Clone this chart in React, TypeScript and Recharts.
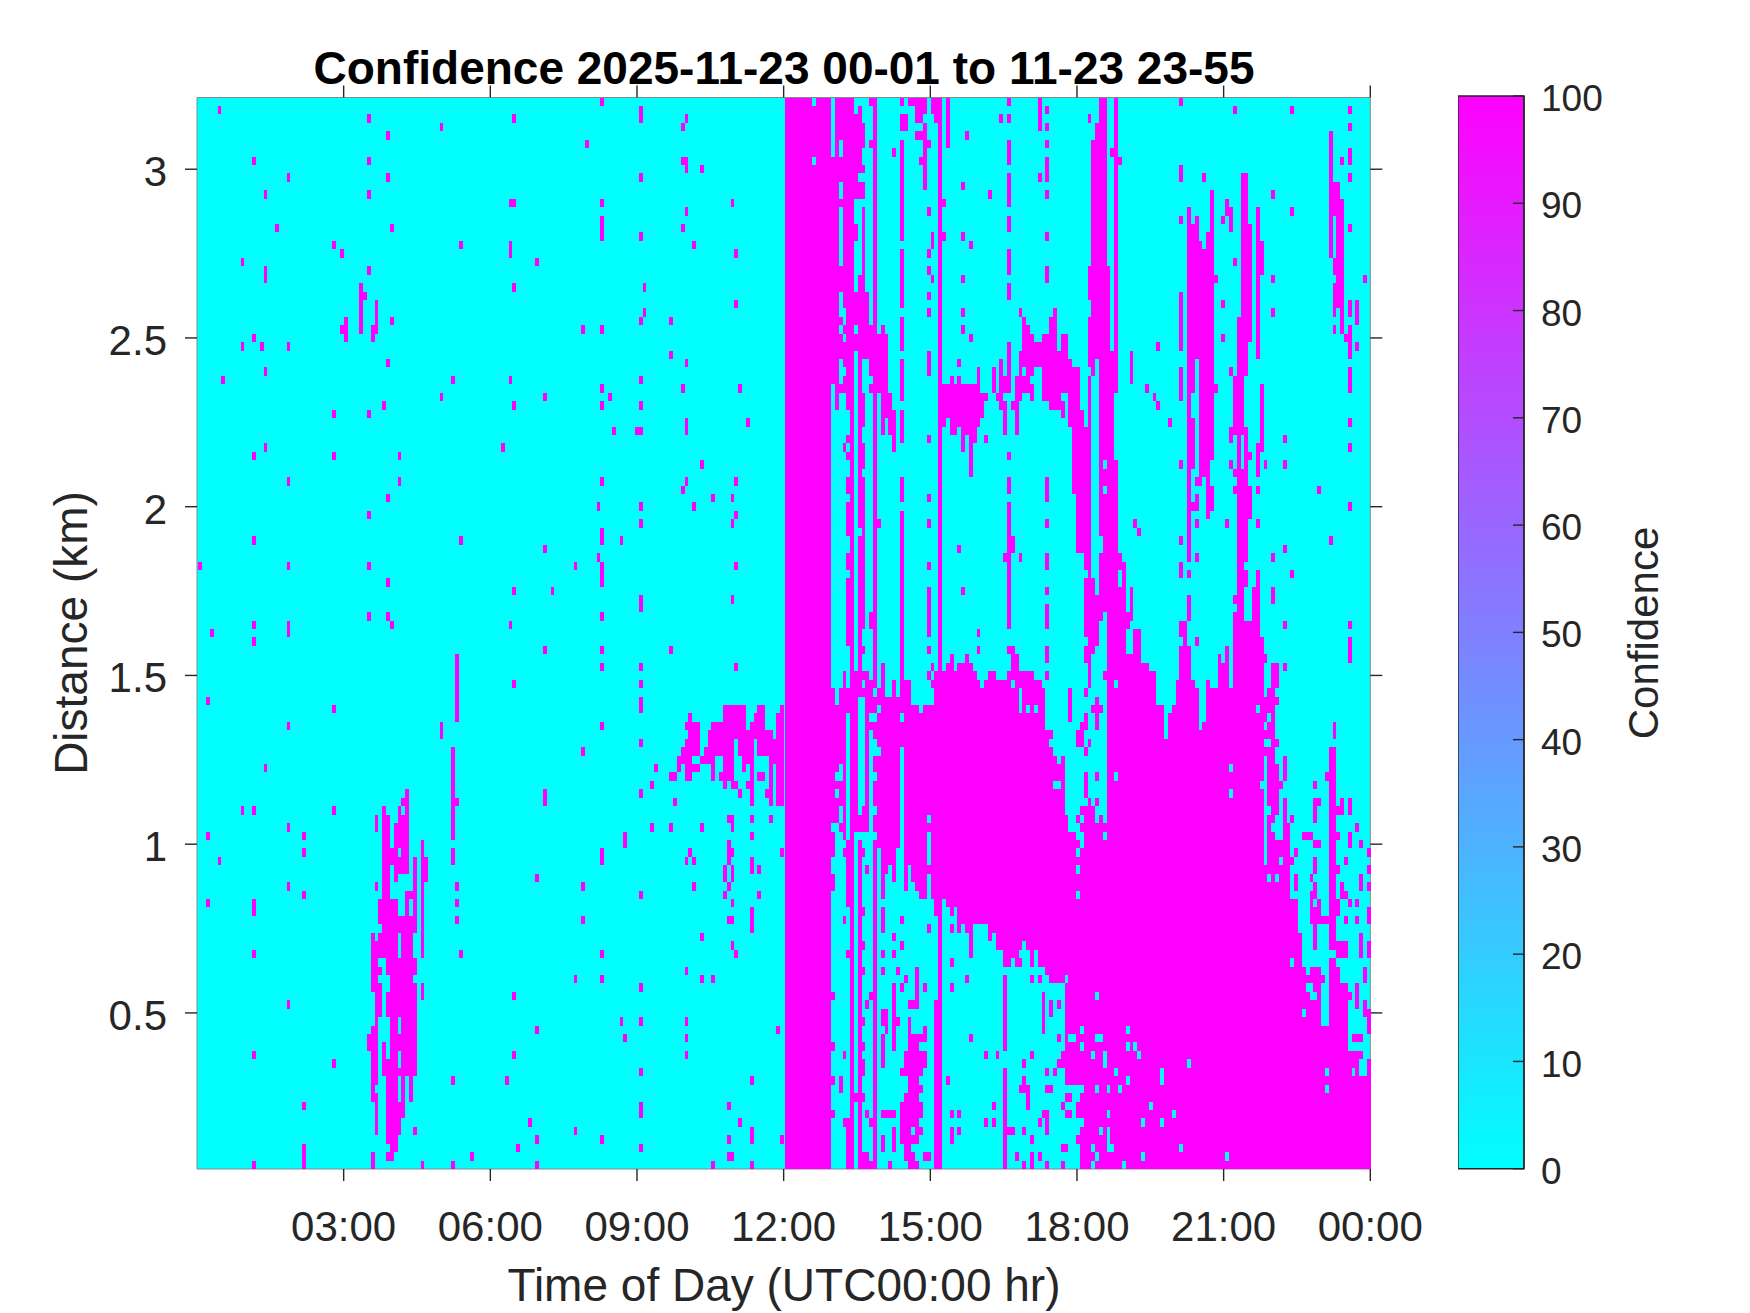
import { ScatterChart, Scatter, XAxis, YAxis, CartesianGrid, BarChart, Bar, ReferenceLine } from "recharts";

// range gate / time bin layout of the lidar grid (row 0 = top gate, 3.2 km)
const ROWS = 127;
const COLS = 306;
const NOON_COL = 153;
const HOUR_START = 0.05;
const HOUR_STEP = 0.0783;
const KM_MIN = 0.0375;
const KM_MAX = 3.2125;

const hourTicks = [3, 6, 9, 12, 15, 18, 21, 24];
const hourLabels = ["03:00", "06:00", "09:00", "12:00", "15:00", "18:00", "21:00", "00:00"];
const distanceTicks = [0.5, 1, 1.5, 2, 2.5, 3];
const confidenceTicks = [0, 10, 20, 30, 40, 50, 60, 70, 80, 90, 100];

type Speck = number[]; // [col, row, rowTo?]
type Patch = number[]; // [colFrom, colTo, rowFrom, rowTo]

// isolated hits before noon (col counted from midnight)
const nightSpecks: Speck[] = [
  [5,1],[44,2],[63,3],[49,4],[82,2],[105,0],[115,1,2],[127,2],[126,3],[101,5],[14,7],[44,7],[126,7],[127,7],[127,8],[131,8],
  [23,9],[49,9],[115,9],[17,11],[44,11],[81,12],[82,12],[105,12],[139,12],[127,13],[20,15],[50,15],[105,14,16],[126,15],[115,16],
  [35,17],[37,18],[68,17],[81,17,18],[129,17],[140,18],[11,19],[88,19],[17,20,21],[44,20],[42,22,27],[43,23],[46,24,27],[38,26,28],
  [37,27],[45,27],[45,28],[50,26],[82,22],[116,22],[140,24],[116,25],[115,26],[123,26],[100,27],[105,27],[14,28],[11,29],[16,29],
  [23,29],[123,30],[49,31],[127,31],[17,32],[6,33],[66,33],[81,33],[115,33],[105,34],[126,34],[141,34],[63,35],[90,35],[107,35],
  [48,36],[82,36],[105,36],[115,36],[35,37],[44,37],[127,38,39],[143,38],[108,39],[114,39],[115,39],[17,41],[79,41],[14,42],[35,42],
  [52,42],[131,43],[23,45],[52,45],[105,45],[127,45],[140,45],[126,46],[49,47],[134,47],[139,47],[104,48],[115,48],[129,48],[44,49],
  [140,49],[115,50],[139,50],[14,52],[68,52],[105,51,52],[110,52],[90,53],[104,54],[0,55],[23,55],[44,55],[98,55],[105,55,57],[140,55],
  [49,57],[82,58],[92,58],[115,59,60],[139,59],[44,61],[49,61],[50,62],[105,61],[14,62],[23,62,63],[81,62],[3,63],[14,64],[90,65],
  [105,65],[123,65],[105,67],[115,67],[140,67],[82,69],[115,69],[2,71],[35,72],[115,71,72],[67,66,73],[23,74],[105,74],[63,74,75],
  [115,76],[100,77],[66,77,82],[66,83],[67,83],[66,84,87],[17,79],[119,79],[118,81],[115,82],[90,82,83],[124,83],[11,84],[14,84],
  [35,84],[23,86],[27,87],[2,87],[111,87,88],[27,89],[5,90],[105,89,90],[66,89,90],[88,92],[100,93],[23,93],[27,94],[67,93],[67,95],
  [2,95],[14,95,96],[115,94],[67,97],[100,97],[14,101],[68,101],[105,101],[98,104],[105,104],[115,105],[82,106],[23,107],[88,110],
  [110,109],[115,109],[127,109],[111,111],[127,111],[14,113],[82,113],[127,113],[35,114],[115,115],[66,116],[80,116],[144,116],
  [27,119],[115,119,120],[138,119],[86,121],[141,121],[98,122],[88,123],[105,123],[138,123],[144,122,123],[83,124],[115,124],[71,125],
  [138,125],[139,125],[27,124,126],[14,126],[45,125,126],[58,126],[66,126],[88,126],[134,126],[144,126],[127,103],[131,104],[134,104],
  [131,99],[139,100],[140,101],[138,97],[139,97],[144,96,98],[139,95],[137,94],[146,94],[138,93],[129,93],[137,91,92],[139,91,92],
  [138,88,90],[139,89],[127,90],[129,90],[128,89],[144,90,91],[146,91],[144,87],[118,86],[123,86],[131,86],[138,85],[139,85],[139,86],
  [144,85],[149,85],[152,89],[151,110],[152,123],
];

// the cloud patch around 04:00
const plumePatches: Patch[] = [
  [54,54,82,82],[53,54,83,83],[48,48,84,84],[52,52,84,84],[54,54,84,84],[46,46,85,86],[48,49,85,88],[52,54,85,85],[51,54,86,88],
  [58,58,88,101],[48,51,89,89],[53,54,89,89],[48,54,90,90],[56,56,90,93],[59,59,90,92],[48,49,91,94],[51,54,91,91],[51,51,92,92],
  [46,46,93,93],[54,56,94,94],[47,51,95,96],[54,54,95,96],[56,56,95,96],[47,56,97,97],[48,56,98,98],[45,45,99,99],[47,51,99,99],
  [53,55,99,101],[45,51,100,101],[45,46,102,102],[49,56,102,103],[45,47,103,103],[45,46,104,104],[50,55,104,104],[45,47,105,105],
  [50,56,105,105],[58,58,105,106],[46,47,106,108],[49,56,106,108],[46,46,109,109],[50,51,109,110],[53,56,109,110],[45,46,110,110],
  [44,46,111,112],[50,56,111,112],[48,48,112,113],[45,46,113,114],[50,51,113,113],[53,56,113,114],[48,51,114,114],[45,46,115,116],
  [48,56,115,115],[49,51,116,118],[53,53,116,118],[55,55,116,118],[45,45,117,117],[45,46,118,118],[46,46,119,122],[49,53,119,120],
  [49,52,121,122],[56,56,122,122],[49,51,123,123],[50,51,124,124],[49,50,125,125],
];

// the layer running into the curtain from 10:00 to noon
const morningBandPatches: Patch[] = [
  [137,137,72,73],[138,142,72,73],[146,147,72,72],[152,152,72,83],[128,128,73,73],[145,147,73,73],[151,151,73,75],[127,130,74,74],
  [134,142,74,74],[144,147,74,74],[128,130,75,75],[133,143,75,75],[144,149,75,75],[127,130,76,76],[133,139,76,76],[141,144,76,76],
  [146,152,76,77],[126,127,77,77],[128,130,77,77],[132,139,77,77],[141,144,77,77],[125,127,78,78],[128,128,78,78],[131,133,78,78],
  [134,134,78,80],[137,139,78,79],[142,142,78,79],[143,144,78,78],[149,152,78,78],[125,125,79,79],[127,128,79,79],[129,130,79,79],
  [144,144,79,83],[149,149,79,83],[151,151,79,83],[123,124,80,80],[127,128,80,80],[136,139,80,80],[146,147,80,80],[137,137,81,81],
  [139,140,81,81],[143,143,81,81],[141,141,82,82],[148,148,82,82],
];

// afternoon data below is counted in columns from noon
const curtainPatches: Patch[] = [
  [0,11,0,126],[13,17,0,6],[12,17,7,34],[18,19,2,2],[19,19,1,1],[18,20,3,5],[18,19,6,7],[18,20,8,8],[18,18,9,9],[18,20,10,11],
  [22,23,0,0],[22,23,5,5],[23,23,0,27],[20,20,13,22],[18,18,15,16],[19,20,21,22],[18,21,23,26],[19,23,27,27],[25,25,27,27],[16,26,28,34],
];

const upperLinePatches: Patch[] = [
  [30,30,0,0],[30,31,2,3],[30,30,5,16],[30,30,18,24],[30,30,26,29],[30,30,31,34],[32,36,0,0],[34,36,1,1],[34,35,2,2],[36,36,3,3],
  [34,36,4,4],[36,37,5,5],[36,36,6,6],[35,36,7,7],[36,36,8,10],[37,37,30,32],[38,38,16,17],[38,40,0,1],[39,40,2,2],[40,40,0,126],
  [42,42,0,5],[58,58,5,7],[58,58,9,11],[58,58,14,15],[58,58,18,20],[58,58,22,23],[58,58,29,32],[66,66,0,3],[68,68,7,9],[68,68,20,21],
  [40,49,34,34],[50,50,32,34],[54,54,32,34],[56,56,31,34],[57,58,33,34],[60,60,33,34],
  [79,79,2,2],[82,83,0,2],[81,83,3,4],[80,83,5,19],[79,84,20,23],[80,84,24,25],[79,84,26,29],[79,86,30,31],[80,80,32,32],[82,86,32,32],
  [79,79,33,34],[82,85,33,34],[86,86,0,34],[85,86,6,6],[87,87,7,7],[90,90,30,33],[103,103,8,9],[103,103,23,29],[103,103,32,34],
  [105,105,13,34],[107,107,14,15],[105,106,15,15],[105,107,16,16],[110,111,16,17],[105,108,17,17],[105,111,18,30],[111,111,11,15],
  [112,112,21,21],[105,106,31,34],[108,111,31,34],[112,112,34,34],[115,115,12,13],[116,116,13,15],[119,120,9,14],[119,121,15,25],
  [118,121,26,28],[118,120,29,32],[117,119,33,34],[123,123,13,30],[124,124,17,20],[142,142,4,18],[143,144,10,13],[145,145,12,19],
  [144,144,14,17],[144,144,18,18],[143,145,19,20],[144,145,21,21],[143,145,22,24],[143,143,25,25],[145,145,25,27],[143,143,27,27],
  [146,147,28,28],[147,147,29,30],[147,147,27,27],[147,147,6,7],[147,147,24,25],[147,147,32,34],[149,149,24,26],
];

const upperSpecks: Speck[] = [
  [28,6],[37,13],[37,18],[37,20],[37,23],[37,25],[38,21],[41,12],[41,16],[47,4],[46,10],[46,16],[46,21],[46,25],[46,27],[48,17],[48,28],
  [53,11],[56,2],[58,0],[58,2],[58,12],[66,9],[68,1],[68,3],[68,5],[68,11],[68,16],[45,31],[43,33],[45,33],[94,34],[97,29],[103,0],
  [103,14],[109,9],[114,14],[114,24],[114,28],[116,32],[117,19],[117,1],[124,34],[127,11],[127,21],[127,25],[132,1],[132,13],[147,1],
  [147,3],[147,9],[147,15],[145,7],[149,29],[151,21],[76,32,34],
];

const bumpPatches: Patch[] = [
  [61,61,25,25],[70,70,25,25],[62,62,26,26],[69,70,26,27],[62,63,27,27],[62,64,28,28],[67,70,28,28],[72,73,28,29],[62,70,29,29],
  [61,73,30,30],[61,74,31,31],[61,76,32,34],
];

const midPatches: Patch[] = [
  [13,13,35,36],[17,17,35,67],[19,20,35,38],[19,19,39,40],[19,20,41,43],[19,19,44,44],[19,20,45,50],[20,20,51,51],[19,20,52,62],
  [19,19,63,64],[19,20,65,65],[19,19,66,70],[16,16,35,36],[16,16,40,40],[15,15,41,41],[16,16,42,42],[16,16,45,46],[16,16,48,51],
  [16,16,54,55],[16,16,57,62],[16,16,63,64],[23,23,35,69],[24,24,50,50],[22,22,61,62],[25,27,35,36],[25,28,37,37],[25,25,38,39],
  [27,28,38,39],[28,28,40,41],[30,30,35,35],[30,30,37,40],[30,30,45,47],[30,30,49,53],[30,30,54,60],[30,30,61,70],[40,49,35,37],
  [40,41,38,38],[43,49,38,38],[43,44,39,39],[46,49,39,39],[46,46,40,41],[48,49,40,40],[48,48,41,44],[50,50,35,38],[51,51,35,37],
  [52,52,35,35],[55,56,35,35],[56,57,36,36],[57,57,37,39],[59,59,36,36],[60,60,35,39],[61,61,35,35],[67,71,35,35],[69,72,36,36],
  [72,72,37,37],[74,76,35,38],[75,76,39,46],[76,76,47,53],[58,58,45,46],[58,58,48,51],[58,59,52,53],[57,58,54,54],[58,58,55,58],
  [58,58,59,62],[58,59,65,65],[59,60,66,68],[68,68,45,47],[68,68,54,55],[68,68,60,62],[68,68,65,66],[42,43,67,67],[45,48,67,67],
  [39,48,68,68],[49,49,68,68],[53,54,68,68],[60,62,68,69],[63,64,68,69],[38,49,69,69],[50,50,69,69],[52,58,69,69],[65,66,69,69],
  [15,15,68,69],[17,21,68,68],[17,19,69,69],[21,22,69,69],[25,25,67,69],[28,28,69,69],[30,32,69,69],
  [76,76,35,38],[77,77,37,38],[79,79,35,38],[76,78,39,39],[79,79,39,39],[76,79,40,48],[77,79,49,53],[78,79,54,55],[79,79,56,56],
  [78,80,57,58],[78,83,59,60],[78,82,61,61],[78,81,62,63],[79,81,64,64],[78,80,65,65],[78,79,66,66],[79,79,67,69],[82,85,35,42],
  [82,86,43,51],[83,86,52,53],[82,87,54,54],[82,88,55,60],[90,90,58,60],[84,90,61,61],[84,89,62,62],[84,88,63,65],[91,92,63,65],
  [84,92,66,66],[84,94,67,67],[83,96,68,68],[84,96,69,69],[103,104,62,63],[104,104,64,64],[103,105,65,68],[102,106,69,69],
  [105,105,35,54],[105,105,59,61],[106,106,38,43],[108,111,35,42],[108,110,43,44],[107,108,45,45],[110,110,45,45],[110,111,46,48],
  [110,110,49,49],[106,107,48,48],[113,113,66,69],[114,115,67,69],[115,115,65,66],[110,110,69,69],[116,116,39,40],[117,119,35,38],
  [116,120,39,39],[118,118,40,43],[120,120,40,43],[120,121,42,42],[117,120,44,44],[118,120,45,45],[117,121,46,46],[118,121,47,49],
  [118,120,50,54],[118,119,55,55],[118,120,56,57],[118,119,58,58],[117,119,59,59],[118,119,60,60],[117,119,61,61],[122,123,58,61],
  [117,123,62,63],[117,124,64,69],[124,124,35,41],[123,123,41,44],[123,123,56,57],[127,128,67,69],[127,127,58,59],
];

const midSpecks: Speck[] = [
  [37,40],[37,47],[37,50],[37,55],[37,58],[37,59,63],[37,65],[37,68],[38,67],[64,35],[52,40],[58,42],[61,54],[68,50],[68,58],[68,68],
  [45,53],[46,58],[50,63],[50,65],[43,66],[47,66],[58,68],[91,50],[92,51],[96,35],[97,36],[100,38],[103,35],[103,43],[103,52],[103,55,56],
  [107,47],[107,50],[107,54],[105,56],[107,64],[115,50],[116,43],[123,46],[123,50],[125,43],[125,66],[127,54],[130,40],[130,43],[130,53],
  [130,62],[130,67],[132,56],[139,46],[142,52],[147,38],[147,41],[147,48],[147,62],[147,64,66],
];

const lowerSolidPatches: Patch[] = [
  [12,83,70,126],[84,124,70,126],[125,152,102,126],
];

// cyan gaps in the curtain and the upper layers
const curtainGapPatches: Patch[] = [
  [7,7,0,0],[7,7,7,7],[14,14,5,6],[14,14,10,11],[14,14,13,19],[14,14,23,25],[14,14,27,27],[14,14,31,33],[15,15,25,26],[15,15,28,28],
  [15,15,32,32],[18,18,27,27],[18,18,30,34],[20,21,31,34],[22,22,33,33],[12,12,34,34],[62,62,32,32],[64,64,33,33],[65,66,32,34],
  [81,81,31,31],[83,83,43,43],[83,83,46,46],[87,87,56,57],[86,86,69,69],[143,143,14,15],
];

// cyan gaps cut back out of the solid layer
const lowerGapPatches: Patch[] = [
  [13,13,70,71],[23,23,70,70],[26,27,70,70],[29,29,70,70],[33,38,70,71],[35,35,72,72],[24,24,72,72],[22,23,73,73],[30,30,73,73],
  [22,22,75,86],[23,23,76,76],[23,24,77,77],[23,23,80,80],[23,23,84,84],[19,20,71,83],[19,19,84,84],[16,16,73,87],[14,14,79,79],
  [13,14,80,80],[13,13,82,82],[14,14,84,85],[12,13,86,86],[13,14,87,87],[13,15,88,88],[13,14,89,89],[12,15,90,91],[13,15,92,93],
  [12,15,94,126],[16,16,95,126],[18,23,87,87],[18,18,88,126],[20,22,88,126],[30,30,77,88],[37,37,85,85],[37,37,87,90],[37,37,92,94],
  [24,24,89,126],[25,25,95,126],[26,26,92,126],[27,27,91,126],[28,28,93,126],[29,30,89,126],[31,31,94,126],[32,32,91,126],[33,33,93,126],
  [34,34,94,126],[35,38,95,126],[39,39,97,126],[41,41,95,126],[42,42,96,126],[43,43,97,126],[44,44,96,126],[45,45,99,126],[46,46,98,126],
  [47,47,99,126],[48,48,102,126],[49,52,98,126],[53,53,100,126],[54,54,99,126],[55,56,101,126],[57,58,103,126],[59,59,102,126],[60,60,103,126],
  [61,61,101,126],[62,62,100,126],[63,63,101,126],[64,64,103,126],[65,65,101,126],[66,67,103,126],[68,69,104,126],[70,72,105,126],
  [73,73,104,104],[73,75,111,111],[73,76,117,118],[73,75,119,120],[73,77,121,121],[73,76,122,122],[73,75,123,123],[73,76,124,126],
  [61,61,70,72],[63,63,72,72],[65,65,72,72],[68,83,70,74],[70,83,75,75],[69,83,76,76],[70,83,77,77],[71,71,78,78],[73,83,78,78],
  [73,83,79,84],[74,83,85,86],[70,71,81,81],[76,83,87,94],
  [97,101,70,71],[99,100,72,72],[99,99,73,75],[108,109,70,73],[108,108,74,74],[116,116,79,79],[116,116,82,82],[86,86,80,80],[123,123,72,72],[124,124,81,81],
  [132,132,102,102],[135,137,102,102],[136,136,103,103],[140,141,102,103],[145,146,103,104],[141,141,104,108],[136,137,105,105],
  [137,138,106,106],[135,135,108,108],[140,141,105,109],[147,152,103,112],[151,152,113,113],[150,151,114,115],
];

// hits left standing inside those gaps
const lowerBitSpecks: Speck[] = [
  [74,70,73],[78,70],[81,71],[80,72],[81,72],[82,72],[81,73,74],[78,73],[77,74],[78,74],[76,75],[77,75],[76,76],[77,76],[79,76],[78,77],
  [78,80,82],[81,80],[79,83],[81,83],[76,85],[78,85],[79,85],[80,85],[82,85],[76,88],[76,90],[76,92,93],
  [15,97],[16,95],[16,101],[20,89],[21,91],[20,96],[20,100],[20,103],[25,96,98],[28,99],[30,97],[30,100],[28,101],[25,101],[25,103],
  [29,103],[31,104],[34,103,106],[28,105],[30,105],[36,105],[37,98],[43,98],[43,102],[47,104],[57,104,112],[57,115,126],[43,105],[47,104],
  [48,111],[52,113],[55,113],[42,116],[43,120],[45,120],[52,121],[54,121],[43,122,123],[45,122],[54,119],[58,122],[59,122],[62,122],
  [64,123],[60,102],[61,102],[64,102],[64,104],[66,104],[69,104],[67,106,110],[69,107,108],[71,107],[71,111],[73,111],[72,113],[71,114],
  [72,114],[68,115],[70,115],[69,117],[73,118],[74,118],[72,119],[67,120],[66,121],[68,120,122],[73,120],[74,120],[72,124],[73,124],
  [60,125],[62,126],[64,125,126],[66,125],[68,126],[72,126],[64,113],[62,114],[62,116],[61,117],[62,117],[63,117],[68,117],[63,118,119],
  [20,109],[20,112],[20,114,115],[21,120],[22,121],[23,121],[12,106],[12,112],[12,116],[12,120],[15,113],[14,116,117],[15,121],[16,121],
  [16,122,126],[17,118],[18,118],[19,118],[20,118],[20,125,126],[21,125,126],[21,126],[22,126],[25,108],[25,109],[26,108,110],[25,111,114],
  [28,105,110],[28,111,112],[28,109],[29,109],[22,106],[21,107],[20,109],[36,105],[30,105],[31,104],[32,107],[33,107],[34,107],[32,109,110],
  [36,110],[25,120],[26,120],[27,120],[28,120],[25,123,124],[28,122,124],[27,126],[39,107,126],[40,107,126],
];

const lowerPiecePatches: Patch[] = [
  [32,36,111,111],[32,34,112,112],[31,36,113,114],[30,35,115,115],[32,34,116,116],[32,35,117,117],[31,34,118,118],[30,35,119,120],
  [30,34,121,121],[30,32,122,122],[34,35,122,122],[30,34,123,123],[31,32,124,124],[31,33,125,125],[36,37,125,125],[32,34,126,126],
  [77,78,74,74],[77,80,84,84],[77,83,86,86],[78,82,87,87],[78,83,88,88],[77,83,89,89],[76,83,90,90],[77,83,91,91],[76,83,92,93],[77,83,94,94],
  [125,127,71,72],[128,128,71,71],[126,127,70,70],[125,125,73,73],[127,127,73,73],[126,127,74,74],[125,127,75,75],[127,128,76,76],[125,127,77,77],
  [126,127,78,78],[126,128,79,80],[126,129,81,81],[126,128,82,83],[127,128,84,84],[126,127,85,85],[126,126,86,86],[126,127,87,87],[126,131,88,89],
  [126,128,90,90],[125,131,91,91],[125,125,92,92],[127,127,92,92],[129,131,92,92],[125,131,93,94],[125,133,95,98],[125,134,99,101],
  [130,130,78,80],[130,130,83,85],[130,131,86,87],[132,132,85,85],[133,133,89,89],[130,132,90,90],[133,133,92,93],
  [135,137,87,87],[138,139,88,88],[138,138,81,81],[138,139,83,83],[138,138,84,85],[143,143,74,75],[142,143,77,99],[141,143,80,80],
  [144,145,84,84],[145,145,83,83],[147,147,83,84],[149,149,86,86],[147,147,87,88],[150,150,88,88],[152,152,89,89],[146,146,90,90],[144,144,87,87],
  [144,144,91,91],[138,138,90,91],[137,137,92,92],[138,138,93,93],[137,138,94,94],[137,137,95,95],[139,139,95,95],[137,139,96,97],[140,143,97,97],
  [138,138,98,100],[144,144,95,96],[145,145,93,94],[146,146,94,94],[147,147,95,95],[149,149,95,95],[150,150,92,93],[152,152,91,91],[152,152,93,93],
  [152,152,96,97],[146,146,97,97],[149,149,97,97],[142,145,100,100],[144,145,101,101],[146,146,100,101],[150,150,99,101],[152,152,100,101],[147,147,106,106],
  [149,149,105,107],[151,151,103,104],[151,151,107,108],[148,150,111,111],[146,146,108,109],[152,152,108,110],
];

const lowerHoleSpecks: Speck[] = [
  [81,106],[77,110],[89,110],[81,111],[82,111],[77,112],[89,112],[91,112],[92,113],[80,113],[83,113,114],[86,115],[98,115,116],[105,114],
  [89,116],[74,117],[76,117],[77,117],[81,117],[84,117],[87,117],[95,119],[84,120],[101,120],[93,121],[98,121],[75,121],[76,121],[76,122],
  [82,122],[84,122,124],[103,124],[80,124],[85,124],[76,125],[81,125],[93,125],[115,125],[80,126],[88,126],[141,115],[141,117],[148,115],[135,108],
];

const lastRowGapPatches: Patch[] = [
  [136,141,102,102],[144,146,102,102],[147,152,102,102],
];

// expand the patch lists into a grid, then into vertical runs for the scatter series
function buildRuns() {
  const grid = Array.from({ length: ROWS }, () => new Uint8Array(COLS));
  const paint = (patches: Patch[], offset: number, v: number) => {
    patches.forEach(([c0, c1, r0, r1]) => {
      for (let r = r0; r <= r1; r++) for (let c = c0; c <= c1; c++) if (grid[r] && c + offset < COLS) grid[r][c + offset] = v;
    });
  };
  const dots = (specks: Speck[], offset: number, v: number) =>
    paint(specks.map(([c, r, rTo]) => [c, c, r, rTo ?? r]), offset, v);

  dots(nightSpecks, 0, 1);
  paint(plumePatches, 0, 1);
  paint(morningBandPatches, 0, 1);
  paint(lowerSolidPatches, NOON_COL, 1);
  paint(lowerGapPatches, NOON_COL, 0);
  paint(curtainPatches, NOON_COL, 1);
  paint(upperLinePatches, NOON_COL, 1);
  dots(upperSpecks, NOON_COL, 1);
  paint(bumpPatches, NOON_COL, 1);
  paint(midPatches, NOON_COL, 1);
  paint(curtainGapPatches, NOON_COL, 0);
  dots(midSpecks, NOON_COL, 1);
  dots(lowerBitSpecks, NOON_COL, 1);
  paint(lowerPiecePatches, NOON_COL, 1);
  dots(lowerHoleSpecks, NOON_COL, 0);
  paint(lastRowGapPatches, NOON_COL, 0);

  const runs: { hour: number; km: number; span: number }[] = [];
  for (let c = 0; c < COLS; c++) {
    const nudge = c < NOON_COL ? 0.25 : 0; // morning bins sit a little left of the afternoon grid
    let r = 0;
    while (r < ROWS) {
      if (!grid[r][c]) { r++; continue; }
      let end = r;
      while (end + 1 < ROWS && grid[end + 1][c]) end++;
      runs.push({
        hour: HOUR_START + (c + 0.5 - nudge) * HOUR_STEP,
        km: 3.2 - 0.025 * ((r + end) / 2),
        span: end - r + 1,
      });
      r = end + 1;
    }
  }
  return runs;
}

const runs = buildRuns();
const topTickMarks = hourTicks.map((hour) => ({ hour, km: KM_MAX }));

const CHART_W = 1750;
const CHART_H = 1313;
const PLOT_LEFT = 197;
const PLOT_TOP = 97.5;
const PLOT_W = 1173.3;
const PLOT_H = 1071.5;
const COL_PX = (HOUR_STEP / 24) * PLOT_W;
const ROW_PX = PLOT_H / ROWS;

const FONT = "Liberation Sans, Arial, sans-serif";
const INK = "#262626";
const BOX = "#7f8c8c";

function GateRun(props: any) {
  const { cx, cy, payload } = props;
  const h = payload.span * ROW_PX;
  return <rect x={cx - COL_PX / 2} y={cy - h / 2} width={COL_PX} height={h} fill="#ff00ff" shapeRendering="crispEdges" />;
}

// outward tick on the top edge of the box
function TopTick(props: any) {
  const { cx, cy } = props;
  return <line x1={cx} x2={cx} y1={cy} y2={cy - 12} stroke={INK} strokeWidth={1.4} />;
}

const tickStyle = { fontSize: 42, fontFamily: FONT, fill: INK };
const lineStyle = { stroke: INK, strokeWidth: 1.4 };

export default function App() {
  return (
    <div style={{ position: "absolute", left: 0, top: 0, width: CHART_W, height: CHART_H, background: "#fff" }}>
      <ScatterChart
        width={CHART_W}
        height={CHART_H}
        margin={{ left: PLOT_LEFT - 80, top: PLOT_TOP, right: CHART_W - PLOT_LEFT - PLOT_W - 12, bottom: CHART_H - PLOT_TOP - PLOT_H - 60 }}
      >
        <CartesianGrid horizontal={false} vertical={false} fill="#00ffff" fillOpacity={1} xAxisId="time" yAxisId="dist" />
        <XAxis
          xAxisId="time"
          type="number"
          dataKey="hour"
          domain={[0, 24]}
          ticks={hourTicks}
          interval={0}
          height={60}
          tickSize={12}
          tickMargin={30}
          tick={tickStyle}
          tickLine={lineStyle}
          axisLine={{ stroke: BOX }}
          tickFormatter={(v: number) => hourLabels[hourTicks.indexOf(v)]}
        />
        <YAxis
          yAxisId="dist"
          type="number"
          dataKey="km"
          domain={[KM_MIN, KM_MAX]}
          ticks={distanceTicks}
          interval={0}
          width={80}
          tickSize={12}
          tickMargin={18}
          tick={{ ...tickStyle, dy: 2 }}
          tickLine={lineStyle}
          axisLine={{ stroke: BOX }}
        />
        <YAxis
          yAxisId="distRight"
          orientation="right"
          type="number"
          domain={[KM_MIN, KM_MAX]}
          allowDataOverflow
          ticks={distanceTicks}
          interval={0}
          width={12}
          tickSize={12}
          tickLine={lineStyle}
          axisLine={{ stroke: BOX }}
          tickFormatter={() => ""}
        />
        <Scatter xAxisId="time" yAxisId="dist" data={runs} shape={GateRun} isAnimationActive={false} />
        <Scatter xAxisId="time" yAxisId="dist" data={topTickMarks} shape={TopTick} isAnimationActive={false} />
        <ReferenceLine xAxisId="time" yAxisId="dist" y={KM_MAX} stroke={BOX} />
        <text x={784} y={84} textAnchor="middle" fontFamily={FONT} fontWeight="bold" fontSize={46} fill="#000">
          Confidence 2025-11-23 00-01 to 11-23 23-55
        </text>
        <text x={784} y={1301} textAnchor="middle" fontFamily={FONT} fontSize={46} fill={INK}>
          Time of Day (UTC00:00 hr)
        </text>
        <text transform="translate(87,633) rotate(-90)" textAnchor="middle" fontFamily={FONT} fontSize={46} fill={INK}>
          Distance (km)
        </text>
      </ScatterChart>
      <div style={{ position: "absolute", left: 1458, top: 0 }}>
        <BarChart
          width={292}
          height={CHART_H}
          data={[{ name: "confidence", level: 100 }]}
          margin={{ left: 0, top: 96, right: 0, bottom: CHART_H - 1168.7 }}
          barCategoryGap={0}
        >
          <defs>
            <linearGradient id="coolRamp" x1="0" y1="1" x2="0" y2="0">
              <stop offset="0%" stopColor="#00ffff" />
              <stop offset="100%" stopColor="#ff00ff" />
            </linearGradient>
          </defs>
          <XAxis dataKey="name" hide />
          <YAxis
            orientation="right"
            type="number"
            domain={[0, 100]}
            ticks={confidenceTicks}
            interval={0}
            width={226}
            tickSize={-11}
            tickMargin={28}
            tick={{ fontSize: 37, fontFamily: FONT, fill: INK, dy: 2 }}
            tickLine={lineStyle}
            axisLine={{ stroke: INK, strokeWidth: 1.4 }}
          />
          <Bar dataKey="level" fill="url(#coolRamp)" stroke={INK} strokeWidth={1.4} isAnimationActive={false} />
          <text transform="translate(200,633) rotate(-90)" textAnchor="middle" fontFamily={FONT} fontSize={42} fill={INK}>
            Confidence
          </text>
        </BarChart>
      </div>
    </div>
  );
}
